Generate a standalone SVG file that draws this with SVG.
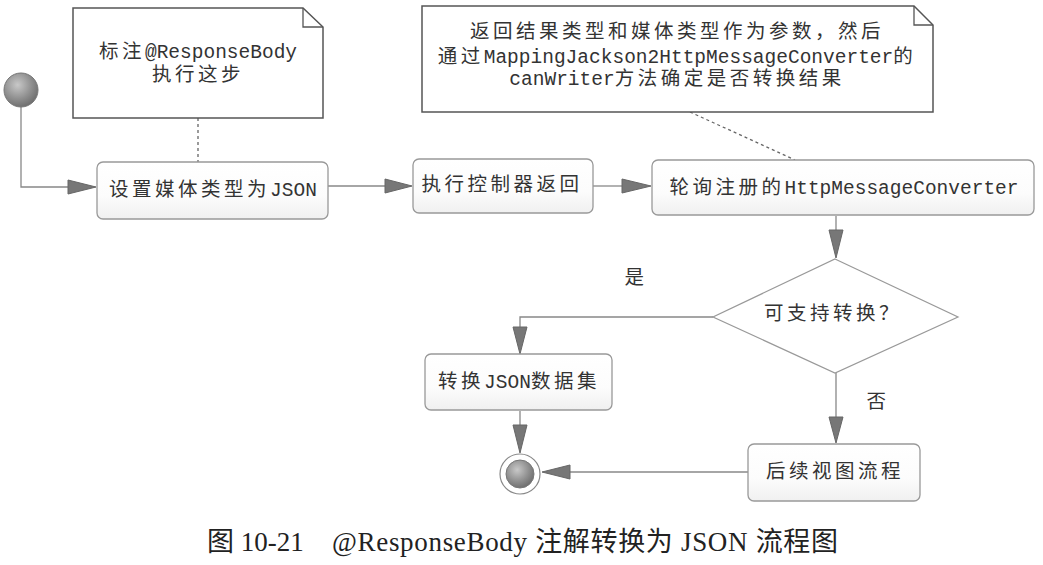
<svg xmlns="http://www.w3.org/2000/svg" width="1043" height="565" viewBox="0 0 1043 565">
<style>
.t{font-family:"Liberation Mono","Noto Sans CJK SC",monospace;font-size:19.5px;fill:#333;letter-spacing:3.5px;text-anchor:middle;dominant-baseline:central}
.l{letter-spacing:0}
.box{fill:url(#boxg);stroke:#999;stroke-width:1.3}
.note{fill:#fff;stroke:#555;stroke-width:1.5}
.fold{fill:none;stroke:#555;stroke-width:1.3}
.dot{fill:none;stroke:#666;stroke-width:1.3;stroke-dasharray:3 3}
.ln{fill:none;stroke:#888;stroke-width:1.3}
.ah{fill:#777;stroke:#666;stroke-width:1}
.cap{font-family:"Liberation Serif","Noto Sans CJK SC",serif;font-size:27px;fill:#222}
</style>
<defs>
<linearGradient id="boxg" x1="0" y1="0" x2="0" y2="1">
<stop offset="0" stop-color="#fff"/>
<stop offset="0.6" stop-color="#fcfcfc"/>
<stop offset="1" stop-color="#f0f0f0"/>
</linearGradient>
<radialGradient id="ball" cx="0.4" cy="0.35" r="0.7">
<stop offset="0" stop-color="#c8c8c8"/>
<stop offset="0.6" stop-color="#8e8e8e"/>
<stop offset="1" stop-color="#6a6a6a"/>
</radialGradient>
</defs>
<rect width="1043" height="565" fill="#fff"/>

<g id="connectors">
<path class="ln" d="M21,107 V187 H70"/>
<polygon class="ah" points="96,187 68,180 68,194"/>
<line class="ln" x1="328" y1="186" x2="387" y2="186"/>
<polygon class="ah" points="412,186 385,179 385,193"/>
<line class="ln" x1="593" y1="186" x2="624" y2="186"/>
<polygon class="ah" points="651,186 622,179 622,193"/>
<line class="ln" x1="836" y1="216" x2="836" y2="232"/>
<polygon class="ah" points="836,258 829,230 843,230"/>
<path class="ln" d="M713,317 H520 V330"/>
<polygon class="ah" points="520,354 513,327 527,327"/>
<line class="ln" x1="836" y1="373" x2="836" y2="419"/>
<polygon class="ah" points="836,443 829,417 843,417"/>
<line class="ln" x1="520" y1="411" x2="520" y2="427"/>
<polygon class="ah" points="520,453 513,425 527,425"/>
<line class="ln" x1="748" y1="472" x2="568" y2="472"/>
<polygon class="ah" points="542,472 570,465 570,479"/>
<line class="dot" x1="198" y1="118" x2="198" y2="162"/>
<line class="dot" x1="690" y1="112" x2="795" y2="160"/>
<text class="t" x="636" y="279">是</text>
<text class="t" x="878" y="403">否</text>
</g>

<g id="start">
<circle cx="21" cy="90" r="17" fill="url(#ball)" stroke="#777" stroke-width="1"/>
</g>

<g id="note1">
<path class="note" d="M73,8 H303 L323,27 V118 H73 Z"/>
<path class="fold" d="M303,8 V27 H323"/>
<text class="t" x="198" y="53">标注<tspan class="l">@ResponseBody</tspan></text>
<text class="t" x="198" y="76">执行这步</text>
</g>

<g id="note2">
<path class="note" d="M422,6 H914 L933,25 V112 H422 Z"/>
<path class="fold" d="M914,6 V25 H933"/>
<text class="t" x="677" y="33">返回结果类型和媒体类型作为参数，然后</text>
<text class="t" x="677" y="58">通过<tspan class="l">MappingJackson2HttpMessageConverter</tspan>的</text>
<text class="t" x="677" y="80"><tspan class="l">canWriter</tspan>方法确定是否转换结果</text>
</g>

<g id="box1">
<rect class="box" x="97" y="162" width="231" height="57" rx="6"/>
<text class="t" x="213" y="191">设置媒体类型为<tspan class="l">JSON</tspan></text>
</g>

<g id="box2">
<rect class="box" x="413" y="159" width="180" height="54" rx="6"/>
<text class="t" x="502" y="186">执行控制器返回</text>
</g>

<g id="box3">
<rect class="box" x="652" y="160" width="382" height="55" rx="6"/>
<text class="t" x="844" y="189">轮询注册的<tspan class="l">HttpMessageConverter</tspan></text>
</g>

<g id="decision">
<polygon points="835,259 958,317 835,373 713,317" fill="#fff" stroke="#999" stroke-width="1.2"/>
<text class="t" x="833" y="315">可支持转换？</text>
</g>

<g id="box4">
<rect class="box" x="425" y="354" width="187" height="56" rx="6"/>
<text class="t" x="519" y="383">转换<tspan class="l">JSON</tspan>数据集</text>
</g>

<g id="box5">
<rect class="box" x="748" y="444" width="172" height="57" rx="6"/>
<text class="t" x="835" y="473">后续视图流程</text>
</g>

<g id="end">
<circle cx="520" cy="474" r="20" fill="#fff" stroke="#888" stroke-width="1.2"/>
<circle cx="520" cy="474" r="14" fill="url(#ball)" stroke="#777" stroke-width="1"/>
</g>

<text class="cap" x="207" y="551">图 10-21</text>
<text class="cap" x="332" y="551" textLength="506" lengthAdjust="spacing">@ResponseBody 注解转换为 JSON 流程图</text>
</svg>
